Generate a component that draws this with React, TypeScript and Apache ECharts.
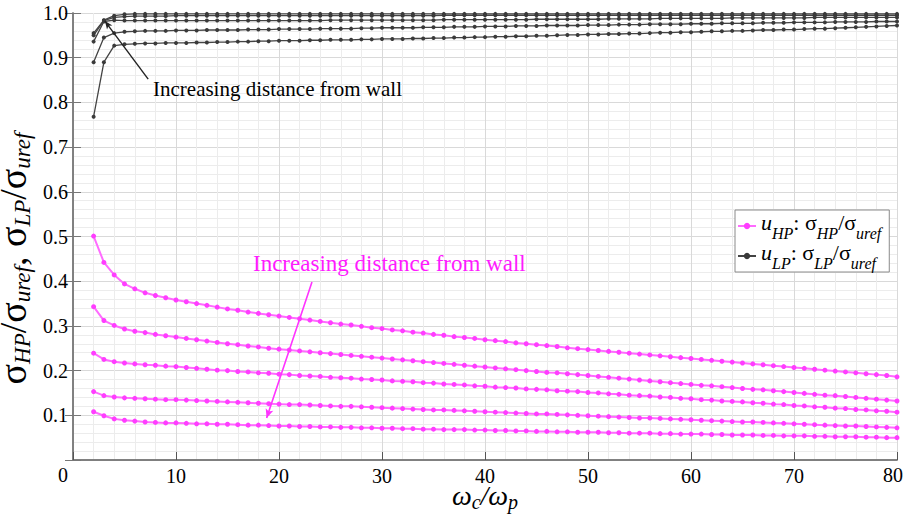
import { useEffect, useRef } from 'react';
import * as echarts from 'echarts';

const FONT = "'Liberation Serif', 'Times New Roman', Times, serif";

// Frequency ratio omega_c / omega_p at which each profile was sampled
const omegaRatio = [
  2, 3, 4, 5, 6, 7, 8, 9, 10, 11,
  12, 13, 14, 15, 16, 17, 18, 19, 20, 21,
  22, 23, 24, 25, 26, 27, 28, 29, 30, 31,
  32, 33, 34, 35, 36, 37, 38, 39, 40, 41,
  42, 43, 44, 45, 46, 47, 48, 49, 50, 51,
  52, 53, 54, 55, 56, 57, 58, 59, 60, 61,
  62, 63, 64, 65, 66, 67, 68, 69, 70, 71,
  72, 73, 74, 75, 76, 77, 78, 79, 80,
];

// High-pass part: sigma_HP / sigma_uref, nearest wall first
const hp1 = [
  0.501, 0.442, 0.414, 0.394, 0.383, 0.374, 0.368, 0.363, 0.358, 0.354,
  0.350, 0.346, 0.342, 0.338, 0.335, 0.331, 0.328, 0.325, 0.322, 0.319,
  0.316, 0.313, 0.310, 0.307, 0.304, 0.302, 0.299, 0.296, 0.294, 0.291,
  0.289, 0.286, 0.284, 0.281, 0.279, 0.276, 0.274, 0.272, 0.269, 0.267,
  0.265, 0.262, 0.260, 0.258, 0.256, 0.254, 0.251, 0.249, 0.247, 0.245,
  0.243, 0.241, 0.239, 0.237, 0.235, 0.233, 0.231, 0.229, 0.227, 0.225,
  0.223, 0.221, 0.219, 0.217, 0.215, 0.213, 0.211, 0.209, 0.207, 0.205,
  0.203, 0.201, 0.199, 0.197, 0.195, 0.193, 0.191, 0.189, 0.186,
];
const hp2 = [
  0.343, 0.312, 0.301, 0.293, 0.288, 0.285, 0.281, 0.278, 0.275, 0.272,
  0.269, 0.266, 0.263, 0.260, 0.258, 0.255, 0.253, 0.250, 0.248, 0.246,
  0.244, 0.242, 0.240, 0.238, 0.236, 0.234, 0.232, 0.230, 0.228, 0.226,
  0.224, 0.222, 0.220, 0.218, 0.216, 0.214, 0.212, 0.210, 0.208, 0.206,
  0.204, 0.202, 0.200, 0.198, 0.196, 0.195, 0.193, 0.191, 0.189, 0.187,
  0.185, 0.183, 0.181, 0.179, 0.177, 0.175, 0.173, 0.171, 0.169, 0.167,
  0.166, 0.164, 0.162, 0.160, 0.158, 0.157, 0.155, 0.153, 0.151, 0.149,
  0.147, 0.145, 0.144, 0.142, 0.140, 0.138, 0.136, 0.134, 0.132,
];
const hp3 = [
  0.239, 0.225, 0.220, 0.217, 0.215, 0.213, 0.212, 0.210, 0.209, 0.207,
  0.205, 0.203, 0.201, 0.200, 0.198, 0.197, 0.195, 0.194, 0.192, 0.191,
  0.189, 0.188, 0.187, 0.185, 0.184, 0.183, 0.181, 0.180, 0.179, 0.177,
  0.176, 0.175, 0.173, 0.172, 0.170, 0.169, 0.168, 0.166, 0.165, 0.163,
  0.162, 0.161, 0.159, 0.158, 0.157, 0.155, 0.154, 0.153, 0.151, 0.150,
  0.148, 0.147, 0.145, 0.144, 0.143, 0.141, 0.140, 0.138, 0.137, 0.135,
  0.134, 0.132, 0.131, 0.130, 0.128, 0.127, 0.125, 0.124, 0.122, 0.121,
  0.119, 0.118, 0.116, 0.115, 0.113, 0.112, 0.110, 0.109, 0.107,
];
const hp4 = [
  0.153, 0.144, 0.141, 0.139, 0.138, 0.137, 0.136, 0.135, 0.135, 0.134,
  0.133, 0.132, 0.131, 0.130, 0.129, 0.128, 0.127, 0.126, 0.125, 0.124,
  0.124, 0.123, 0.122, 0.121, 0.120, 0.120, 0.119, 0.118, 0.117, 0.116,
  0.115, 0.114, 0.113, 0.112, 0.112, 0.111, 0.110, 0.109, 0.108, 0.107,
  0.106, 0.105, 0.104, 0.103, 0.103, 0.102, 0.101, 0.100, 0.099, 0.098,
  0.097, 0.096, 0.095, 0.094, 0.094, 0.093, 0.092, 0.091, 0.090, 0.089,
  0.088, 0.087, 0.086, 0.085, 0.085, 0.084, 0.083, 0.082, 0.081, 0.080,
  0.079, 0.078, 0.077, 0.076, 0.076, 0.075, 0.074, 0.073, 0.072,
];
const hp5 = [
  0.108, 0.099, 0.092, 0.089, 0.087, 0.085, 0.084, 0.083, 0.083, 0.082,
  0.081, 0.081, 0.080, 0.080, 0.079, 0.078, 0.078, 0.077, 0.076, 0.076,
  0.075, 0.075, 0.074, 0.074, 0.073, 0.073, 0.072, 0.072, 0.071, 0.071,
  0.070, 0.070, 0.069, 0.069, 0.068, 0.068, 0.068, 0.067, 0.067, 0.066,
  0.066, 0.065, 0.065, 0.064, 0.064, 0.063, 0.063, 0.062, 0.062, 0.062,
  0.061, 0.061, 0.060, 0.060, 0.060, 0.059, 0.059, 0.058, 0.058, 0.058,
  0.057, 0.057, 0.056, 0.056, 0.056, 0.055, 0.055, 0.054, 0.054, 0.054,
  0.053, 0.053, 0.052, 0.052, 0.052, 0.051, 0.051, 0.050, 0.050,
];

// Low-pass part: sigma_LP / sigma_uref, furthest from wall first
const lpA = [
  0.955, 0.984, 0.994, 0.997, 0.998, 0.998, 0.998, 0.998, 0.998, 0.998,
  0.998, 0.998, 0.998, 0.998, 0.998, 0.998, 0.998, 0.998, 0.998, 0.998,
  0.998, 0.998, 0.998, 0.998, 0.998, 0.998, 0.998, 0.998, 0.998, 0.998,
  0.998, 0.998, 0.998, 0.998, 0.998, 0.998, 0.998, 0.998, 0.998, 0.998,
  0.998, 0.998, 0.998, 0.998, 0.998, 0.998, 0.998, 0.998, 0.998, 0.998,
  0.998, 0.998, 0.998, 0.998, 0.998, 0.998, 0.998, 0.998, 0.998, 0.998,
  0.998, 0.998, 0.998, 0.998, 0.998, 0.998, 0.998, 0.998, 0.998, 0.998,
  0.998, 0.998, 0.998, 0.998, 0.998, 0.998, 0.998, 0.998, 0.998,
];
const lpB = [
  0.950, 0.983, 0.990, 0.992, 0.993, 0.993, 0.993, 0.993, 0.994, 0.994,
  0.994, 0.994, 0.994, 0.994, 0.994, 0.994, 0.994, 0.994, 0.994, 0.994,
  0.994, 0.994, 0.994, 0.994, 0.994, 0.994, 0.994, 0.994, 0.994, 0.994,
  0.994, 0.994, 0.994, 0.994, 0.995, 0.995, 0.995, 0.995, 0.995, 0.995,
  0.995, 0.995, 0.995, 0.995, 0.995, 0.995, 0.995, 0.995, 0.995, 0.995,
  0.995, 0.995, 0.995, 0.995, 0.995, 0.995, 0.995, 0.995, 0.995, 0.995,
  0.995, 0.995, 0.995, 0.995, 0.995, 0.995, 0.995, 0.995, 0.995, 0.995,
  0.995, 0.995, 0.995, 0.995, 0.995, 0.995, 0.995, 0.995, 0.995,
];
const lpC = [
  0.936, 0.981, 0.984, 0.983, 0.983, 0.983, 0.983, 0.983, 0.983, 0.983,
  0.983, 0.983, 0.983, 0.983, 0.983, 0.983, 0.983, 0.983, 0.983, 0.983,
  0.983, 0.983, 0.983, 0.984, 0.984, 0.984, 0.984, 0.984, 0.984, 0.984,
  0.984, 0.984, 0.984, 0.984, 0.985, 0.985, 0.985, 0.985, 0.985, 0.985,
  0.985, 0.985, 0.985, 0.986, 0.986, 0.986, 0.986, 0.986, 0.986, 0.986,
  0.987, 0.987, 0.987, 0.987, 0.987, 0.988, 0.988, 0.988, 0.988, 0.988,
  0.988, 0.988, 0.989, 0.989, 0.989, 0.989, 0.989, 0.989, 0.989, 0.989,
  0.990, 0.990, 0.990, 0.990, 0.990, 0.990, 0.990, 0.990, 0.990,
];
const lpD = [
  0.890, 0.945, 0.955, 0.958, 0.959, 0.960, 0.960, 0.960, 0.961, 0.961,
  0.961, 0.962, 0.962, 0.962, 0.962, 0.963, 0.963, 0.963, 0.964, 0.964,
  0.964, 0.964, 0.965, 0.965, 0.965, 0.965, 0.966, 0.966, 0.967, 0.967,
  0.967, 0.967, 0.968, 0.968, 0.968, 0.969, 0.969, 0.969, 0.970, 0.970,
  0.970, 0.971, 0.971, 0.971, 0.972, 0.972, 0.972, 0.972, 0.973, 0.973,
  0.973, 0.974, 0.974, 0.974, 0.975, 0.975, 0.975, 0.975, 0.976, 0.976,
  0.976, 0.977, 0.977, 0.977, 0.977, 0.978, 0.978, 0.978, 0.979, 0.979,
  0.979, 0.979, 0.980, 0.980, 0.980, 0.980, 0.981, 0.981, 0.981,
];
const lpE = [
  0.768, 0.890, 0.927, 0.930, 0.931, 0.932, 0.932, 0.933, 0.933, 0.933,
  0.934, 0.934, 0.935, 0.935, 0.936, 0.936, 0.937, 0.937, 0.938, 0.938,
  0.938, 0.939, 0.939, 0.940, 0.940, 0.940, 0.941, 0.941, 0.942, 0.942,
  0.942, 0.943, 0.943, 0.944, 0.944, 0.945, 0.945, 0.946, 0.946, 0.947,
  0.947, 0.948, 0.948, 0.949, 0.949, 0.950, 0.951, 0.951, 0.952, 0.952,
  0.953, 0.953, 0.954, 0.954, 0.955, 0.956, 0.956, 0.957, 0.957, 0.958,
  0.959, 0.959, 0.960, 0.960, 0.961, 0.962, 0.962, 0.963, 0.963, 0.964,
  0.965, 0.965, 0.966, 0.967, 0.968, 0.969, 0.970, 0.971, 0.972,
];

const hpProfiles = [hp1, hp2, hp3, hp4, hp5];
const lpProfiles = [lpA, lpB, lpC, lpD, lpE];

// Annotation arrows, in data coordinates: [from, to]
const lpArrow = [[7.3, 0.852], [3.1, 0.982]];
const hpArrow = [[23.2, 0.398], [18.8, 0.094]];

const annotationText = 'Increasing distance from wall';

const HP_LINE = '#ff6bff';
const HP_MARK = '#ff3dff';
const LP_LINE = '#444444';
const LP_MARK = '#3a3a3a';

const pairs = (ys: number[]) => omegaRatio.map((x, i) => [x, ys[i]]);

// Rich-text pieces: base glyphs sit at the top of the line box, subscripts at its bottom
const sub = (size: number, lh = Math.round(size * 0.7)) => ({
  fontFamily: FONT,
  fontStyle: 'italic',
  fontSize: size,
  lineHeight: lh,
  verticalAlign: 'bottom',
  color: '#000',
});
const main = (size: number, italic = false, lh = 30) => ({
  fontFamily: FONT,
  fontStyle: italic ? 'italic' : 'normal',
  fontSize: size,
  lineHeight: lh,
  verticalAlign: 'top',
  color: '#000',
});

export default function App() {
  const ref = useRef<HTMLDivElement>(null);

  useEffect(() => {
    const chart = echarts.init(ref.current!, null, { renderer: 'svg' });

    const hpSeries = hpProfiles.map((ys, k) => ({
      name: 'uHP',
      type: 'line',
      data: pairs(ys),
      symbol: 'circle',
      symbolSize: 5,
      showSymbol: true,
      lineStyle: { color: HP_LINE, width: 2 },
      itemStyle: { color: HP_MARK },
      z: 3,
      silent: true,
      markLine:
        k === 0
          ? {
              silent: true,
              symbol: ['none', 'arrow'],
              symbolSize: [6, 9],
              label: { show: false },
              lineStyle: { color: '#ff33ff', width: 1.6, type: 'solid' },
              data: [[{ coord: hpArrow[0] }, { coord: hpArrow[1] }]],
            }
          : undefined,
    }));

    const lpSeries = lpProfiles.map((ys, k) => ({
      name: 'uLP',
      type: 'line',
      data: pairs(ys),
      symbol: 'circle',
      symbolSize: 4,
      showSymbol: true,
      lineStyle: { color: LP_LINE, width: 1.3 },
      itemStyle: { color: LP_MARK },
      z: 4,
      silent: true,
      markLine:
        k === 0
          ? {
              silent: true,
              symbol: ['none', 'arrow'],
              symbolSize: [5, 8],
              label: { show: false },
              lineStyle: { color: '#222', width: 1.4, type: 'solid' },
              data: [[{ coord: lpArrow[0] }, { coord: lpArrow[1] }]],
            }
          : undefined,
    }));

    const legendRich = {
      i: main(22, true, 30),
      g: main(22, false, 30),
      s: sub(16, 8),
    };

    const nameRich = {
      g: main(38, false, 40),
      s: sub(23, 6),
    };

    const axisNameRichX = {
      w: main(28, true, 31),
      s: sub(20, 6),
    };

    const option: any = {
      animation: false,
      backgroundColor: '#ffffff',
      grid: {
        left: 73,
        right: 8,
        top: 13,
        bottom: 64,
        containLabel: false,
        outerBoundsMode: 'none',
      },
      xAxis: [
        {
          type: 'value',
          min: 0,
          max: 80,
          interval: 10,
          position: 'bottom',
          name: '{w|ω}{s|c}{w|/ω}{s|p}',
          nameLocation: 'middle',
          nameGap: 21,
          nameMoveOverlap: false,
          nameTextStyle: { rich: axisNameRichX },
          axisLine: { show: true, lineStyle: { color: '#7a7a7a', width: 1.5 } },
          axisTick: { show: true, inside: true, length: 8, lineStyle: { color: '#555', width: 1 } },
          axisLabel: {
            margin: 7,
            fontFamily: FONT,
            fontSize: 20,
            lineHeight: 18,
            color: '#000',
            // the two end labels are placed separately so they stay inside the frame
            formatter: (v: number) => (v === 0 || v === 80 ? '' : String(v)),
          },
          splitLine: { show: true, lineStyle: { color: '#d9d9d9', width: 1 } },
          minorTick: { show: false, splitNumber: 5 },
          minorSplitLine: { show: true, lineStyle: { color: '#ececec', width: 1 } },
        },
        {
          type: 'value',
          min: 0,
          max: 80,
          interval: 10,
          position: 'top',
          axisLine: { show: true, lineStyle: { color: '#7a7a7a', width: 1.5 } },
          axisTick: { show: false },
          axisLabel: { show: false },
          splitLine: { show: false },
        },
      ],
      yAxis: [
        {
          type: 'value',
          min: 0,
          max: 1,
          interval: 0.1,
          position: 'left',
          name: '{g|σ}{s|HP}{g|/σ}{s|uref}{g|, σ}{s|LP}{g|/σ}{s|uref}',
          nameLocation: 'middle',
          nameRotate: 90,
          nameGap: 39,
          nameMoveOverlap: false,
          nameTextStyle: { rich: nameRich, padding: [0, 44, 0, 0] },
          axisLine: { show: true, lineStyle: { color: '#7a7a7a', width: 1.5 } },
          axisTick: { show: true, inside: true, length: 8, lineStyle: { color: '#777', width: 1 } },
          axisLabel: {
            margin: 5,
            fontFamily: FONT,
            fontSize: 20,
            color: '#000',
            formatter: (v: number) => (v === 0 ? '' : v.toFixed(1)),
          },
          splitLine: { show: true, lineStyle: { color: '#d9d9d9', width: 1 } },
          minorTick: { show: false, splitNumber: 5 },
          minorSplitLine: { show: true, lineStyle: { color: '#ececec', width: 1 } },
        },
        {
          type: 'value',
          min: 0,
          max: 1,
          interval: 0.1,
          position: 'right',
          axisLine: { show: true, lineStyle: { color: '#7a7a7a', width: 1.5 } },
          axisTick: { show: true, inside: true, length: 8, lineStyle: { color: '#777', width: 1 } },
          axisLabel: { show: false },
          splitLine: { show: false },
        },
      ],
      legend: {
        show: true,
        left: 735,
        top: 210,
        orient: 'vertical',
        data: ['uHP', 'uLP'],
        backgroundColor: '#fff',
        borderColor: '#8a8a8a',
        borderWidth: 1,
        borderRadius: 0,
        padding: [1, 8, 1, 2],
        itemGap: 0,
        itemWidth: 18,
        itemHeight: 8,
        selectedMode: false,
        textStyle: { rich: legendRich },
        formatter: (name: string) =>
          name === 'uHP'
            ? '{i|u}{s|HP}{g|: σ}{s|HP}{g|/σ}{s|uref}'
            : '{i|u}{s|LP}{g|: σ}{s|LP}{g|/σ}{s|uref}',
      },
      graphic: [
        {
          type: 'text',
          left: 58,
          top: 465,
          z: 10,
          style: { text: '0', fontFamily: FONT, fontSize: 20, fill: '#000' },
        },
        {
          type: 'text',
          left: 883,
          top: 465,
          z: 10,
          style: { text: '80', fontFamily: FONT, fontSize: 20, fill: '#000' },
        },
        {
          type: 'text',
          left: 153,
          top: 78,
          z: 10,
          style: { text: annotationText, fontFamily: FONT, fontSize: 21, fill: '#000' },
        },
        {
          type: 'text',
          left: 253,
          top: 252,
          z: 10,
          style: { text: annotationText, fontFamily: FONT, fontSize: 23, fill: '#ff1aff' },
        },
      ],
      series: [...hpSeries, ...lpSeries],
    };

    chart.setOption(option);
    return () => chart.dispose();
  }, []);

  return (
    <div
      ref={ref}
      style={{ position: 'fixed', left: 0, top: 0, width: 905, height: 524, background: '#fff' }}
    />
  );
}
